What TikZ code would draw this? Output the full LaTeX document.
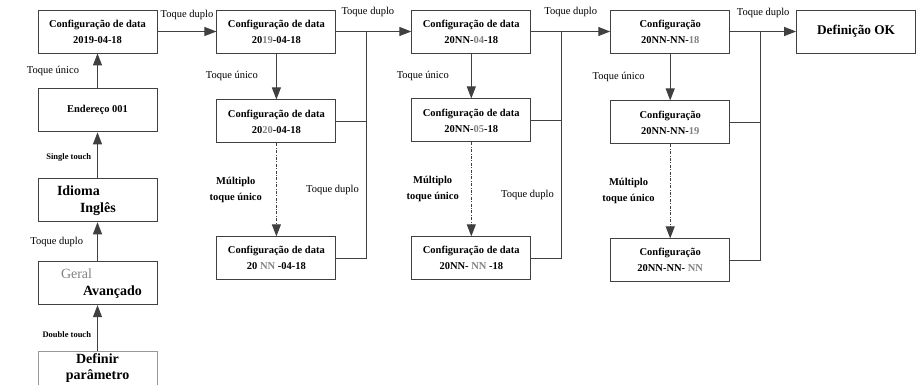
\documentclass[tikz,border=0pt]{standalone}
\usepackage{fontspec}
\setmainfont{Liberation Serif}
\usetikzlibrary{positioning,arrows.meta}
\definecolor{linegray}{HTML}{404040}
\definecolor{digitgray}{HTML}{808080}
\newcommand{\dgt}[1]{\textcolor{digitgray}{#1}}

\begin{document}
\begin{tikzpicture}[
	stepbox/.style={draw=linegray, line width=0.9pt, minimum width=119pt, minimum height=43pt,
		inner sep=0pt, align=center, font=\fontsize{10.5}{16}\selectfont\bfseries},
	bigbox/.style={stepbox, font=\fontsize{14}{17}\selectfont\bfseries},
	tap/.style={draw=linegray, line width=1pt, -{Triangle[length=12pt,width=9pt]}},
	multitap/.style={tap, dash pattern=on 3pt off 1.5pt on 0.8pt off 1.5pt},
	bus/.style={draw=linegray, line width=1pt},
	note/.style={inner sep=1pt, font=\fontsize{10.5}{12}\selectfont},
	bnote/.style={inner sep=1pt, align=center, font=\fontsize{10.5}{16}\selectfont\bfseries},
	snote/.style={inner sep=1pt, font=\fontsize{8.5}{10}\selectfont\bfseries},
	]
	\useasboundingbox (0,0) rectangle (918pt,-385pt);
	% Left column, entered from the bottom
	\node[stepbox] (Data0) at (97.5pt,-31.5pt) {Configuração de data\\2019-04-18} ;
	\node[stepbox, below=35pt of Data0] (Addr) {Endereço 001} ;
	\node[bigbox, below=46pt of Addr, align=left, text width=119pt] (Lang) {\hspace*{19pt}Idioma\\\hspace*{42pt}Inglês} ;
	\node[bigbox, below=39pt of Lang, align=left, text width=119pt] (Adv) {\hspace*{23pt}{\mdseries\color{digitgray}Geral}\\\hspace*{45pt}Avançado} ;
	% runs past the lower edge, text sits high
	\node[bigbox, draw=black!40, below=46pt of Adv] (Param)
		{\raisebox{5pt}[\height][\depth]{\begin{tabular}{@{}c@{}}Definir\\[-1pt]parâmetro\end{tabular}}} ;
	\draw[tap] (Addr) -- node[note, midway, left=17pt] {Toque único} (Data0) ;
	\draw[tap] (Lang) -- node[snote, pos=0.46, left=5pt] {Single touch} (Addr) ;
	\draw[tap] (Adv) -- node[note, midway, left=13pt] {Toque duplo} (Lang) ;
	\draw[tap] (Param) -- node[snote, pos=0.35, left=5pt] {Double touch} (Adv) ;

	% Year
	\node[stepbox, right=59pt of Data0] (Year) {Configuração de data\\20\dgt{19}-04-18} ;
	\node[stepbox, below=46pt of Year] (YearUp) {Configuração de data\\20\dgt{20}-04-18} ;
	\node[stepbox, below=93pt of YearUp] (YearN) {Configuração de data\\20 \dgt{NN} -04-18} ;
	\draw[tap] (Data0) -- node[note, above=10pt] {Toque duplo} (Year) ;
	\draw[tap] (Year) -- node[note, midway, left=17pt] {Toque único} (YearUp) ;
	\draw[multitap] (YearUp) -- node[bnote, midway, left=13pt] {Múltiplo\\toque único} (YearN) ;
	\coordinate[right=30pt of Year.east] (Bus2) ;

	% Month
	\node[stepbox, right=75pt of Year] (Month) {Configuração de data\\20NN-\dgt{04}-18} ;
	\node[stepbox, below=45pt of Month] (MonthUp) {Configuração de data\\20NN-\dgt{05}-18} ;
	\node[stepbox, below=94pt of MonthUp] (MonthN) {Configuração de data\\20NN- \dgt{NN} -18} ;
	\draw[tap] (Year) -- node[note, pos=0.42, above=13pt] {Toque duplo} (Month) ;
	\draw[bus] (YearUp.east) -- (YearUp.east -| Bus2) ;
	\draw[bus] (YearN.east) -| node[note, pos=0.65, left=6pt] {Toque duplo} (Bus2) ;
	\draw[tap] (Month) -- node[note, midway, left=21pt] {Toque único} (MonthUp) ;
	\draw[multitap] (MonthUp) -- node[bnote, midway, left=11pt] {Múltiplo\\toque único} (MonthN) ;
	\coordinate[right=30pt of Month.east] (Bus3) ;

	% Day
	\node[stepbox, right=79pt of Month] (Day) {Configuração\\20NN-NN-\dgt{18}} ;
	\node[stepbox, below=47pt of Day] (DayUp) {Configuração\\20NN-NN-\dgt{19}} ;
	\node[stepbox, below=94pt of DayUp] (DayN) {Configuração\\20NN-NN- \dgt{NN}} ;
	\draw[tap] (Month) -- node[note, above=13pt] {Toque duplo} (Day) ;
	\draw[bus] (MonthUp.east) -- (MonthUp.east -| Bus3) ;
	\draw[bus] (MonthN.east) -| node[note, pos=0.64, left=6pt] {Toque duplo} (Bus3) ;
	\draw[tap] (Day) -- node[note, midway, left=24pt] {Toque único} (DayUp) ;
	\draw[multitap] (DayUp) -- node[bnote, midway, left=14pt] {Múltiplo\\toque único} (DayN) ;
	\coordinate[right=30pt of Day.east] (Bus4) ;

	% Finished
	\node[stepbox, right=66pt of Day, font=\fontsize{13.3}{16}\selectfont\bfseries] (Done) {Definição OK} ;
	\draw[tap] (Day) -- node[note, above=12pt] {Toque duplo} (Done) ;
	\draw[bus] (DayUp.east) -- (DayUp.east -| Bus4) ;
	\draw[bus] (DayN.east) -| (Bus4) ;
\end{tikzpicture}
\end{document}
